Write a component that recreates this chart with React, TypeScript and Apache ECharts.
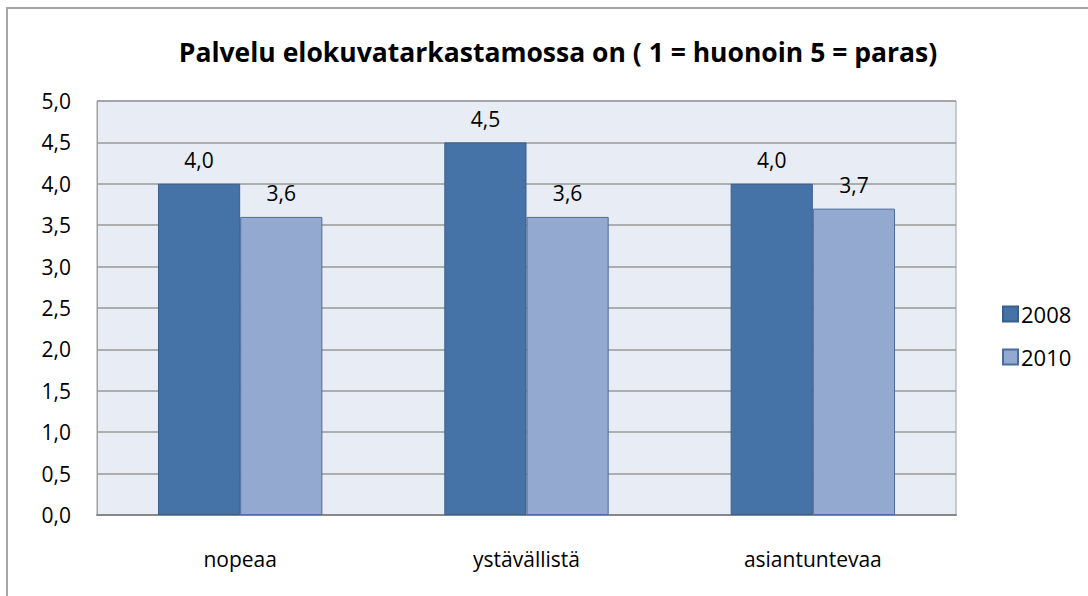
import React, { useEffect, useRef } from "react";
import * as echarts from "echarts";

const categories = ["nopeaa", "ystävällistä", "asiantuntevaa"];
const values2008 = [4.0, 4.5, 4.0];
const values2010 = [3.6, 3.6, 3.7];
const seriesNames = ["2008", "2010"];
const titleText = "Palvelu elokuvatarkastamossa on ( 1 = huonoin 5 = paras)";

const FONT = "'Open Sans', 'Noto Sans', sans-serif";
const fmt = (v: number) => v.toFixed(1).replace(".", ",");

export default function App() {
  const ref = useRef<HTMLDivElement>(null);
  useEffect(() => {
    if (!ref.current) return;
    const chart = echarts.init(ref.current, null, { renderer: "svg" });
    chart.setOption({
      animation: false,
      backgroundColor: "#ffffff",
      textStyle: { fontFamily: FONT },
      title: {
        text: titleText,
        left: 553,
        textAlign: "center",
        top: 33,
        textStyle: { fontFamily: FONT, fontSize: 26.5, fontWeight: "bold", color: "#000" },
      },
      graphic: [
        {
          type: "rect",
          shape: { x: 7, y: 8, width: 1200, height: 700 },
          style: { fill: "none", stroke: "#a6a6a6", lineWidth: 2 },
          silent: true,
        },
      ],
      legend: {
        orient: "vertical",
        left: 997,
        top: 298,
        itemWidth: 15,
        itemHeight: 15,
        itemGap: 21,
        icon: "rect",
        textStyle: { fontFamily: FONT, fontSize: 22, color: "#000", padding: [0, 0, 0, -2] },
        data: seriesNames,
      },
      grid: {
        left: 97,
        top: 101,
        right: 132,
        bottom: 81,
        show: true,
        backgroundColor: "#E8ECF4",
        borderColor: "#a0a0a0",
        borderWidth: 1,
      },
      xAxis: {
        type: "category",
        data: categories,
        axisTick: { show: false },
        axisLine: { lineStyle: { color: "#888", width: 2 } },
        axisLabel: { fontFamily: FONT, fontSize: 21, color: "#000", margin: 33 },
      },
      yAxis: {
        type: "value",
        min: 0,
        max: 5,
        interval: 0.5,
        axisLine: { show: true, lineStyle: { color: "#a0a0a0" } },
        axisTick: { show: false },
        splitLine: { lineStyle: { color: "#999", width: 1.5 } },
        axisLabel: { fontFamily: FONT, fontSize: 21, color: "#000", margin: 26, formatter: (v: number) => fmt(v) },
      },
      series: [
        {
          name: seriesNames[0],
          type: "bar",
          data: values2008,
          barGap: "0%",
          barCategoryGap: "42.6%",
          itemStyle: { color: "#4572A7", borderColor: "#3A5F8C", borderWidth: 1 },
          label: { show: true, position: "top", distance: 13, fontFamily: FONT, fontSize: 21, color: "#000", formatter: (p: any) => fmt(p.value) },
        },
        {
          name: seriesNames[1],
          type: "bar",
          data: values2010,
          barGap: "0%",
          barCategoryGap: "42.6%",
          itemStyle: { color: "#93A9CF", borderColor: "#4A6C9E", borderWidth: 1 },
          label: { show: true, position: "top", distance: 13, fontFamily: FONT, fontSize: 21, color: "#000", formatter: (p: any) => fmt(p.value) },
        },
      ],
    });
    return () => chart.dispose();
  }, []);
  return (
    <div
      ref={ref}
      style={{ position: "fixed", left: 0, top: 0, width: 1088, height: 596 }}
    />
  );
}
